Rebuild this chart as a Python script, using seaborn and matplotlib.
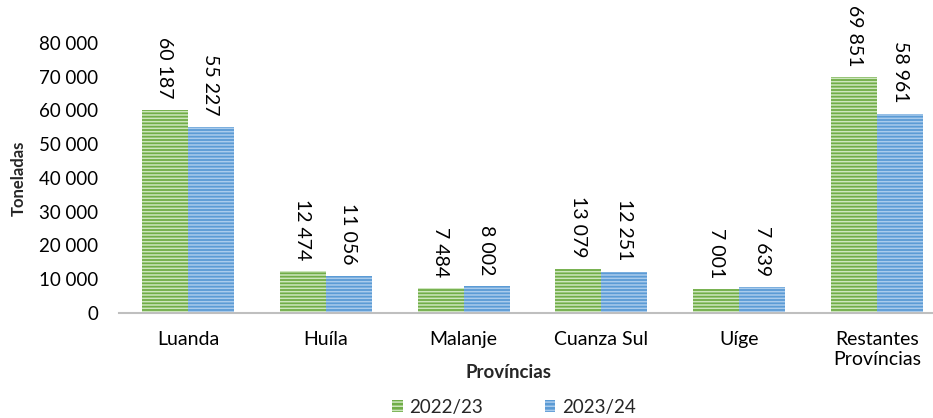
import matplotlib
matplotlib.use("Agg")
import matplotlib.pyplot as plt
from matplotlib.patches import Patch
import pandas as pd
import seaborn as sns

# Production by province, two agricultural campaigns (tonnes)
provincias = ["Luanda", "Huíla", "Malanje", "Cuanza Sul", "Uíge", "Restantes\nProvíncias"]
campanhas = ["2022/23", "2023/24"]
valores_2022_23 = [60187, 12474, 7484, 13079, 7001, 69851]
valores_2023_24 = [55227, 11056, 8002, 12251, 7639, 58961]
y_ticks = [0, 10000, 20000, 30000, 40000, 50000, 60000, 70000, 80000]

cores = ["#70AD47", "#5B9BD5"]
riscas = ["#CDE6BD", "#A9CBEC"]

df = pd.DataFrame({
    "Província": provincias * 2,
    "Campanha": [campanhas[0]] * len(provincias) + [campanhas[1]] * len(provincias),
    "Toneladas": valores_2022_23 + valores_2023_24,
})

sns.set_theme(style="white")
plt.rcParams["font.family"] = ["Lato", "DejaVu Sans"]
plt.rcParams["hatch.linewidth"] = 1.1


def fmt(v):
    return f"{v:,.0f}".replace(",", " ")


fig = plt.figure(figsize=(9.33, 4.18), dpi=100)
ax = fig.add_axes([119 / 933, 1 - 313 / 418, 827 / 933, 270 / 418])

sns.barplot(data=df, x="Província", y="Toneladas", hue="Campanha",
            palette=cores, saturation=1, width=0.667, ax=ax, legend=False)

for cont, cor, risca in zip(ax.containers, cores, riscas):
    for bar in cont:
        bar.set_facecolor(cor)
        bar.set_edgecolor(risca)
        bar.set_linewidth(0)
        bar.set_hatch("-----")
    ax.bar_label(cont, labels=[fmt(b.get_height()) for b in cont],
                 rotation=270, padding=8, fontsize=14, color="#000000")

ax.set_ylim(0, 80000)
ax.set_xlim(-0.5, len(provincias) - 0.5)
ax.set_yticks(y_ticks)
ax.set_yticklabels([fmt(v) for v in y_ticks], fontsize=13.5, color="#000000")
ax.tick_params(axis="x", labelsize=14, colors="#000000", length=0, pad=13)
ax.tick_params(axis="y", length=0, pad=15)

for side in ["top", "right", "left"]:
    ax.spines[side].set_visible(False)
ax.spines["bottom"].set_color("#BFBFBF")
ax.spines["bottom"].set_linewidth(1.5)

ax.set_xlabel("Províncias", fontsize=13.5, fontweight="bold")
ax.xaxis.set_label_coords((509 - 119) / 827, -(364 - 313) / 270)
ax.set_ylabel("Toneladas", fontsize=12, fontweight="bold")
ax.yaxis.set_label_coords(-(119 - 27) / 827, 0.5)

handles = [Patch(facecolor=c, edgecolor=r, linewidth=0, hatch="----", label=l)
           for c, r, l in zip(cores, riscas, campanhas)]
fig.legend(handles=handles, loc="center", bbox_to_anchor=(514 / 933, 1 - 407 / 418),
           ncol=2, frameon=False, fontsize=13.5, handlelength=0.55, handleheight=0.55,
           handletextpad=0.35, columnspacing=3.3)

fig.savefig("out.png", dpi=100)
